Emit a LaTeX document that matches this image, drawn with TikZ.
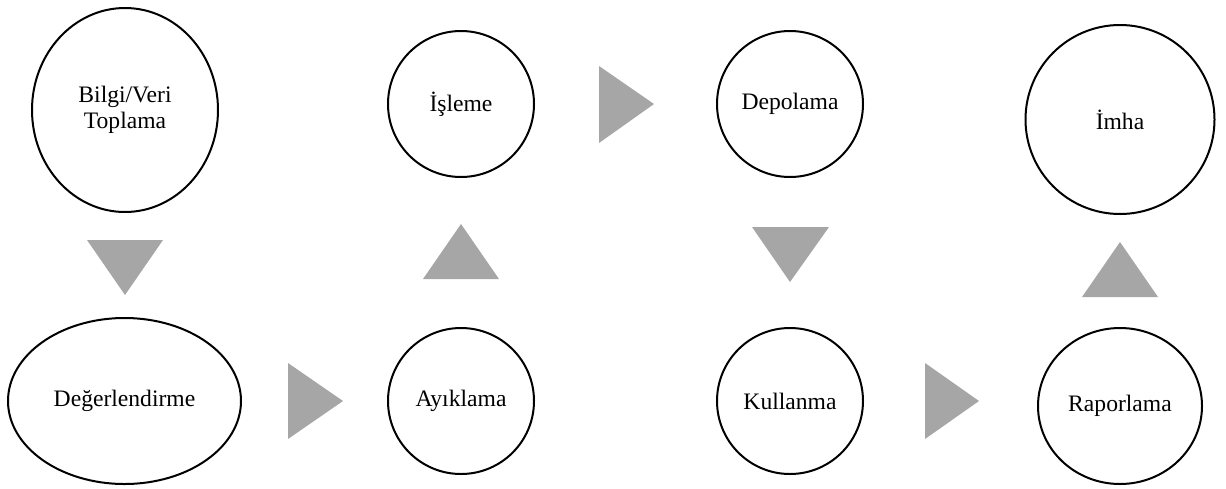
\documentclass[tikz,border=0pt]{standalone}
\usepackage{fontspec}
\setmainfont{Liberation Serif}
\usetikzlibrary{shapes.geometric}
\definecolor{trigray}{HTML}{A6A6A6}
\tikzset{
  stage/.style={ellipse, draw=black, line width=2pt, fill=white, inner sep=0pt,
    align=center, font=\fontsize{23.6}{26}\selectfont},
  tri/.style={fill=trigray, draw=none}
}
\begin{document}
\begin{tikzpicture}[x=1pt,y=-1pt]
\useasboundingbox (0,0) rectangle (1226,488);
% stages
\node[stage, minimum width=186pt, minimum height=204pt] (bilgi) at (125,110) {Bilgi/Veri\\Toplama};
\node[stage, minimum width=233pt, minimum height=166pt] (deger) at (124.5,401) {Değerlendirme};
\node[stage, minimum width=146pt, minimum height=146pt] (ayik) at (461,401) {Ayıklama};
\node[stage, minimum width=146pt, minimum height=146pt] (isleme) at (461,104) {İşleme};
\node[stage, minimum width=146pt, minimum height=146pt] (depo) at (790,104) {Depolama};
\node[stage, minimum width=146pt, minimum height=146pt] (kull) at (790,401) {Kullanma};
\node[stage, minimum width=164pt, minimum height=156pt] (rapor) at (1120,406) {Raporlama};
\node[stage, minimum width=189pt, minimum height=189pt] (imha) at (1120,119.5) {İmha};
% triangles
\fill[tri] (87,240) -- (163,240) -- (125,295) -- cycle;
\fill[tri] (288,363) -- (288,439) -- (343,401) -- cycle;
\fill[tri] (423,279) -- (499,279) -- (461,224) -- cycle;
\fill[tri] (599,66) -- (599,143) -- (654,104) -- cycle;
\fill[tri] (752,227) -- (829,227) -- (790,282) -- cycle;
\fill[tri] (925,363) -- (925,439) -- (979,401) -- cycle;
\fill[tri] (1082,297) -- (1158,297) -- (1120,242) -- cycle;
\end{tikzpicture}
\end{document}
